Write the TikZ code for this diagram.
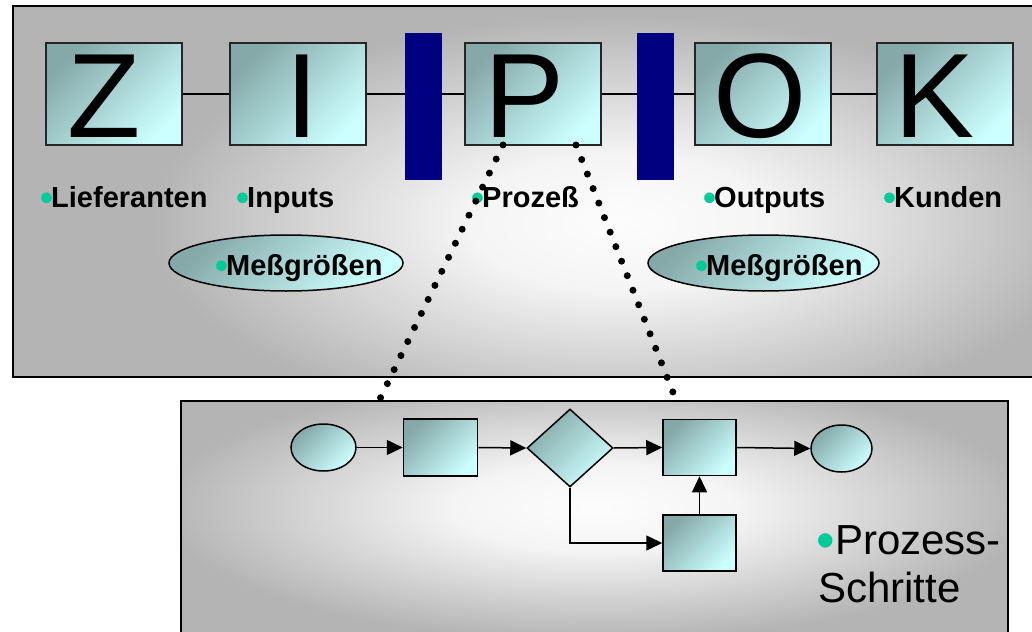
\documentclass[tikz,border=0pt]{standalone}
\usepackage{fontspec}
\setmainfont{Liberation Sans}
\usetikzlibrary{shapes.geometric,arrows.meta}
\definecolor{boxdark}{RGB}{133,168,168}
\definecolor{boxlight}{RGB}{204,255,255}
\definecolor{navybar}{RGB}{0,0,128}
\definecolor{bgreen}{RGB}{0,204,153}
\definecolor{panelgray}{RGB}{180,180,180}
\pgfdeclareradialshading{panelglow}{\pgfpointorigin}{rgb(0bp)=(0.99,0.99,0.99); rgb(8bp)=(0.96,0.96,0.96); rgb(25bp)=(0.706,0.706,0.706); rgb(50bp)=(0.706,0.706,0.706)}
\newcommand\bulS{\makebox[9pt][l]{\kern-2pt\raisebox{-3pt}{\textcolor{bgreen}{\fontsize{37}{37}\selectfont •}}}}
\newcommand\bulL{\makebox[16pt][l]{\kern-3pt\raisebox{-4.5pt}{\textcolor{bgreen}{\fontsize{53}{53}\selectfont •}}}}
\begin{document}
\begin{tikzpicture}[x=1pt,y=-1pt,
  tbox/.style={draw=black!85, line width=2pt, top color=boxdark, bottom color=boxlight, shading angle=45, minimum width=136pt, minimum height=102pt, inner sep=0pt},
  letter/.style={inner sep=0pt, font=\fontsize{120}{120}\selectfont},
  bar/.style={fill=navybar, inner sep=0pt, minimum width=37pt, minimum height=147pt},
  lbl/.style={inner sep=0pt, anchor=base west, font=\fontsize{29}{29}\selectfont\bfseries},
  big/.style={inner sep=0pt, anchor=base west, font=\fontsize{42}{42}\selectfont},
  mell/.style={ellipse, draw=black, line width=1.5pt, top color=boxdark, bottom color=boxlight, shading angle=45, inner sep=0pt, minimum height=56pt},
  fshape/.style={draw=black, line width=1.5pt, top color=boxdark, bottom color=boxlight, shading angle=45, inner sep=0pt},
  fbox/.style={fshape, rectangle, minimum width=74pt, minimum height=57pt},
  fell/.style={fshape, ellipse, minimum height=47pt},
  fdia/.style={fshape, diamond, minimum width=86pt, minimum height=78pt},
  flow/.style={line width=1.5pt, -{Triangle[length=16pt,width=15pt]}},
  tline/.style={line width=1.5pt},
  dots/.style={line width=7pt, line cap=round, dash pattern=on 0pt off 15.6pt}
]
\useasboundingbox (0,0) rectangle (1032,631);
% top panel
\begin{scope}
  \clip (13,6.5) rectangle (1045,377);
  \fill[panelgray] (13,6.5) rectangle (1045,377);
  \shade[shading=panelglow] (150,15) rectangle (1090,430);
\end{scope}
\draw[line width=2pt] (1045,6.5) -- (13,6.5) -- (13,377) -- (1045,377);
% bottom panel
\begin{scope}
  \clip (181,401) rectangle (1008,640);
  \fill[panelgray] (181,401) rectangle (1008,640);
  \shade[shading=panelglow] (160,375) rectangle (1030,640);
\end{scope}
\draw[line width=2pt] (181,640) -- (181,401) -- (1008,401) -- (1008,640);
% ZIPOK boxes
\node[tbox] (Z) at (113.5,94) {};
\node[tbox] (I) at (297.5,94) {};
\node[tbox] (P) at (532.5,94) {};
\node[tbox] (O) at (763,94) {};
\node[tbox] (K) at (945,94) {};
\node[letter] (Zt) at (104,96) {Z};
\node[letter] (It) at (302,96) {I};
\node[letter] (Pt) at (525,96) {P};
\node[letter] (Ot) at (760,96) {O};
\node[letter] (Kt) at (935,96) {K};
\draw[tline] (Z.east) -- (I.west);
\draw[tline] (I.east) -- (P.west);
\draw[tline] (P.east) -- (O.west);
\draw[tline] (O.east) -- (K.west);
\node[bar] (bar1) at (423.5,106.5) {};
\node[bar] (bar2) at (655,106.5) {};
% labels
\node[lbl] (lZ) at (42,207) {\bulS Lieferanten};
\node[lbl] (lI) at (238,207) {\bulS Inputs};
\node[lbl] (lP) at (473,207) {\bulS Prozeß};
\node[lbl] (lO) at (705,207) {\bulS Outputs};
\node[lbl] (lK) at (885,207) {\bulS Kunden};
\node[mell, minimum width=234pt] (m1) at (286,263) {};
\node[mell, minimum width=231pt] (m2) at (763.5,263) {};
\node[lbl] (m1t) at (217,275) {\bulS Meßgrößen};
\node[lbl] (m2t) at (697,275) {\bulS Meßgrößen};
% flow chart
\node[fell, minimum width=65pt] (c1) at (323.5,447.5) {};
\node[fbox] (b1) at (440.5,447.5) {};
\node[fdia] (d) at (570,448) {};
\node[fbox, minimum width=73pt, minimum height=56pt] (b2) at (699.5,447.5) {};
\node[fell, minimum width=61pt] (c2) at (841.5,448.5) {};
\node[fbox, minimum width=73pt, minimum height=56pt] (b3) at (699.5,543) {};
\draw[flow] (c1.east) -- (b1.west);
\draw[flow] (b1.east) -- (d.west);
\draw[flow] (d.east) -- (b2.west);
\draw[flow] (b2.east) -- (c2.west);
\draw[flow] (b3.north) -- (b2.south);
\draw[flow] (d.south) |- (b3.west);
\node[big] (pt1) at (819,554) {\bulL Prozess-};
\node[big] (pt2) at (818,602) {Schritte};
% dotted zoom lines
\coordinate (pL) at (503,145);
\coordinate (pR) at (576,145);
\coordinate (qL) at (377,405);
\coordinate (qR) at (676,400);
\draw[dots] (pL) -- (qL);
\draw[dots] (pR) -- (qR);
\end{tikzpicture}
\end{document}
